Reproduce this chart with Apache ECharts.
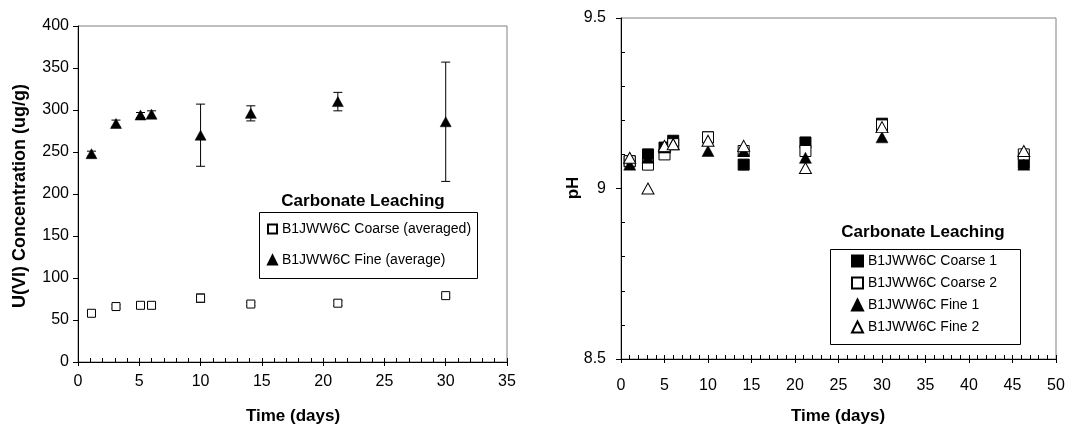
<!DOCTYPE html>
<html>
<head>
<meta charset="utf-8">
<script src="https://cdn.jsdelivr.net/npm/echarts@6/dist/echarts.min.js"></script>
<style>
html,body{margin:0;padding:0;background:#fff;}
#c{width:1088px;height:430px;}
</style>
</head>
<body>
<div id="c"></div>
<script>
// ---- Left chart data: U(VI) concentration (ug/g) ----
const timeLeft = [1.1, 3.1, 5.1, 6, 10, 14.1, 21.2, 30];
const coarseAvg = [58, 66, 67.5, 67.5, 76, 69, 70, 79];
const coarseErr = [2, 2, 2, 2, 5, 2, 3, 2];
const fineAvg = [248, 284, 294, 295, 270, 296, 310, 286];
const fineErr = [3, 4, 3, 4, 37, 9, 11, 71];

// ---- Right chart data: pH ----
const timeRight = [1, 3.1, 5, 6, 10, 14.1, 21.2, 30, 46.3];
const coarse1 = [9.08, 9.10, 9.12, 9.14, 9.15, 9.07, 9.135, 9.19, 9.075];
const coarse2 = [9.08, 9.07, 9.10, 9.13, 9.15, 9.11, 9.11, 9.185, 9.10];
const fine1 = [9.07, 9.09, 9.12, 9.13, 9.11, 9.11, 9.09, 9.15, 9.07];
const fine2 = [9.09, 9.00, 9.125, 9.13, 9.14, 9.125, 9.06, 9.18, 9.11];

const leftNames = ['B1JWW6C Coarse (averaged)', 'B1JWW6C Fine (average)'];
const rightNames = ['B1JWW6C Coarse 1', 'B1JWW6C Coarse 2', 'B1JWW6C Fine 1', 'B1JWW6C Fine 2'];
const legendTitle = 'Carbonate Leaching';
const xTitle = 'Time (days)';
const yTitleLeft = 'U(VI) Concentration (ug/g)';
const yTitleRight = 'pH';

const FONT = '"Liberation Sans", Arial, sans-serif';
const zip = (xs, ys) => xs.map((x, i) => [x, ys[i]]);
const zip3 = (xs, ys, es) => xs.map((x, i) => [x, ys[i], es[i]]);

function errRender(params, api) {
  const x = api.value(0), y = api.value(1), e = api.value(2);
  const t = api.coord([x, y + e]);
  const b = api.coord([x, y - e]);
  const hw = 4.5;
  const st = {stroke: '#000', lineWidth: 1};
  return {
    type: 'group',
    children: [
      {type: 'line', shape: {x1: t[0], y1: t[1], x2: b[0], y2: b[1]}, style: st},
      {type: 'line', shape: {x1: t[0] - hw, y1: t[1], x2: t[0] + hw, y2: t[1]}, style: st},
      {type: 'line', shape: {x1: b[0] - hw, y1: b[1], x2: b[0] + hw, y2: b[1]}, style: st}
    ]
  };
}

function mainX(grid, max, margin) {
  return {
    type: 'value', gridIndex: grid, min: 0, max: max, interval: 5, position: 'bottom',
    axisLine: {show: true, onZero: false, lineStyle: {color: '#000', width: 1}},
    axisTick: {show: true, inside: false, length: 4, lineStyle: {color: '#000'}},
    axisLabel: {show: true, margin: margin, color: '#000', fontSize: 16, fontFamily: FONT},
    splitLine: {show: false}
  };
}
function minorX(grid, max) {
  return {
    type: 'value', gridIndex: grid, min: 0, max: max, interval: 5, position: 'bottom',
    axisLine: {show: false, onZero: false},
    axisTick: {show: true, inside: true, length: 4, lineStyle: {color: '#000'}},
    minorTick: {show: true, splitNumber: 5, length: 4, lineStyle: {color: '#000'}},
    axisLabel: {show: false},
    splitLine: {show: false}, minorSplitLine: {show: false}
  };
}

const option = {
  animation: false,
  backgroundColor: '#fff',
  textStyle: {fontFamily: FONT},
  grid: [
    {left: 78, top: 26, width: 429, height: 336, show: true, borderColor: '#808080', borderWidth: 1, backgroundColor: 'transparent'},
    {left: 621, top: 18, width: 435, height: 341, show: true, borderColor: '#808080', borderWidth: 1, backgroundColor: 'transparent'}
  ],
  xAxis: [
    mainX(0, 35, 12),
    minorX(0, 35),
    mainX(1, 50, 19),
    minorX(1, 50)
  ],
  yAxis: [
    {
      type: 'value', gridIndex: 0, min: 0, max: 400, interval: 50, position: 'left',
      axisLine: {show: true, onZero: false, lineStyle: {color: '#000'}},
      axisTick: {show: true, inside: false, length: 5, lineStyle: {color: '#000'}},
      axisLabel: {margin: 9, color: '#000', fontSize: 16, fontFamily: FONT},
      splitLine: {show: false}
    },
    {
      type: 'value', gridIndex: 1, min: 8.5, max: 9.5, interval: 0.5, position: 'left',
      axisLine: {show: true, onZero: false, lineStyle: {color: '#000'}},
      axisTick: {show: true, inside: false, length: 5, lineStyle: {color: '#000'}},
      axisLabel: {margin: 15, color: '#000', fontSize: 16, fontFamily: FONT},
      splitLine: {show: false}
    },
    {
      type: 'value', gridIndex: 1, min: 8.5, max: 9.5, interval: 0.5, position: 'left',
      axisLine: {show: false, onZero: false},
      axisTick: {show: false, inside: true, length: 4},
      minorTick: {show: true, splitNumber: 5, length: 4, lineStyle: {color: '#000'}},
      axisLabel: {show: false},
      splitLine: {show: false}, minorSplitLine: {show: false}
    }
  ],
  legend: [
    {
      data: leftNames, orient: 'vertical', left: 267, top: 222,
      itemWidth: 9, itemHeight: 9, itemGap: 17, padding: 0,
      textStyle: {fontSize: 14, color: '#000', fontFamily: FONT},
      selectedMode: false
    },
    {
      data: rightNames, orient: 'vertical', left: 851, top: 254,
      itemWidth: 11, itemHeight: 11, itemGap: 8, padding: 0,
      textStyle: {fontSize: 14, color: '#000', fontFamily: FONT},
      selectedMode: false
    }
  ],
  series: [
    {type: 'custom', name: 'coarseErr', xAxisIndex: 0, yAxisIndex: 0, renderItem: errRender,
     encode: {x: 0, y: 1}, data: zip3(timeLeft, coarseAvg, coarseErr), silent: true, z: 2},
    {type: 'custom', name: 'fineErr', xAxisIndex: 0, yAxisIndex: 0, renderItem: errRender,
     encode: {x: 0, y: 1}, data: zip3(timeLeft, fineAvg, fineErr), silent: true, z: 2},
    {type: 'scatter', name: leftNames[0], xAxisIndex: 0, yAxisIndex: 0, symbol: 'rect', symbolSize: 8,
     itemStyle: {color: '#fff', borderColor: '#000', borderWidth: 1, opacity: 1},
     data: zip(timeLeft, coarseAvg), z: 3},
    {type: 'scatter', name: leftNames[1], xAxisIndex: 0, yAxisIndex: 0, symbol: 'triangle', symbolSize: [11, 10],
     itemStyle: {color: '#000', borderColor: '#000', borderWidth: 0.5, opacity: 1},
     data: zip(timeLeft, fineAvg), z: 3},
    {type: 'scatter', name: rightNames[0], xAxisIndex: 2, yAxisIndex: 1, symbol: 'rect', symbolSize: 11,
     itemStyle: {color: '#000', borderColor: '#000', borderWidth: 1, opacity: 1},
     data: zip(timeRight, coarse1), z: 3},
    {type: 'scatter', name: rightNames[1], xAxisIndex: 2, yAxisIndex: 1, symbol: 'rect', symbolSize: 11,
     itemStyle: {color: '#fff', borderColor: '#000', borderWidth: 1, opacity: 1},
     data: zip(timeRight, coarse2), z: 4},
    {type: 'scatter', name: rightNames[2], xAxisIndex: 2, yAxisIndex: 1, symbol: 'triangle', symbolSize: [12, 11],
     itemStyle: {color: '#000', borderColor: '#000', borderWidth: 0.5, opacity: 1},
     data: zip(timeRight, fine1), z: 5},
    {type: 'scatter', name: rightNames[3], xAxisIndex: 2, yAxisIndex: 1, symbol: 'triangle', symbolSize: [12, 11],
     itemStyle: {color: '#fff', borderColor: '#000', borderWidth: 1, opacity: 1},
     data: zip(timeRight, fine2), z: 6}
  ],
  graphic: [
    {type: 'rect', z: 1, shape: {x: 259.5, y: 212.5, width: 218, height: 66},
     style: {fill: '#fff', stroke: '#000', lineWidth: 1}},
    {type: 'rect', z: 1, shape: {x: 830.5, y: 249.5, width: 190, height: 95},
     style: {fill: '#fff', stroke: '#000', lineWidth: 1}},
    {type: 'text', x: 363, y: 201, style: {text: legendTitle, fill: '#000', font: 'bold 17px ' + FONT, textAlign: 'center', textVerticalAlign: 'middle'}},
    {type: 'text', x: 923, y: 232, style: {text: legendTitle, fill: '#000', font: 'bold 17px ' + FONT, textAlign: 'center', textVerticalAlign: 'middle'}},
    {type: 'text', x: 293, y: 416, style: {text: xTitle, fill: '#000', font: 'bold 17px ' + FONT, textAlign: 'center', textVerticalAlign: 'middle'}},
    {type: 'text', x: 838, y: 416, style: {text: xTitle, fill: '#000', font: 'bold 17px ' + FONT, textAlign: 'center', textVerticalAlign: 'middle'}},
    {type: 'text', x: 20, y: 196, rotation: Math.PI / 2, style: {text: yTitleLeft, fill: '#000', font: 'bold 18px ' + FONT, textAlign: 'center', textVerticalAlign: 'middle'}},
    {type: 'text', x: 573, y: 188, rotation: Math.PI / 2, style: {text: yTitleRight, fill: '#000', font: 'bold 17px ' + FONT, textAlign: 'center', textVerticalAlign: 'middle'}}
  ]
};

const chart = echarts.init(document.getElementById('c'), null, {renderer: 'canvas'});
chart.setOption(option);
</script>
</body>
</html>
